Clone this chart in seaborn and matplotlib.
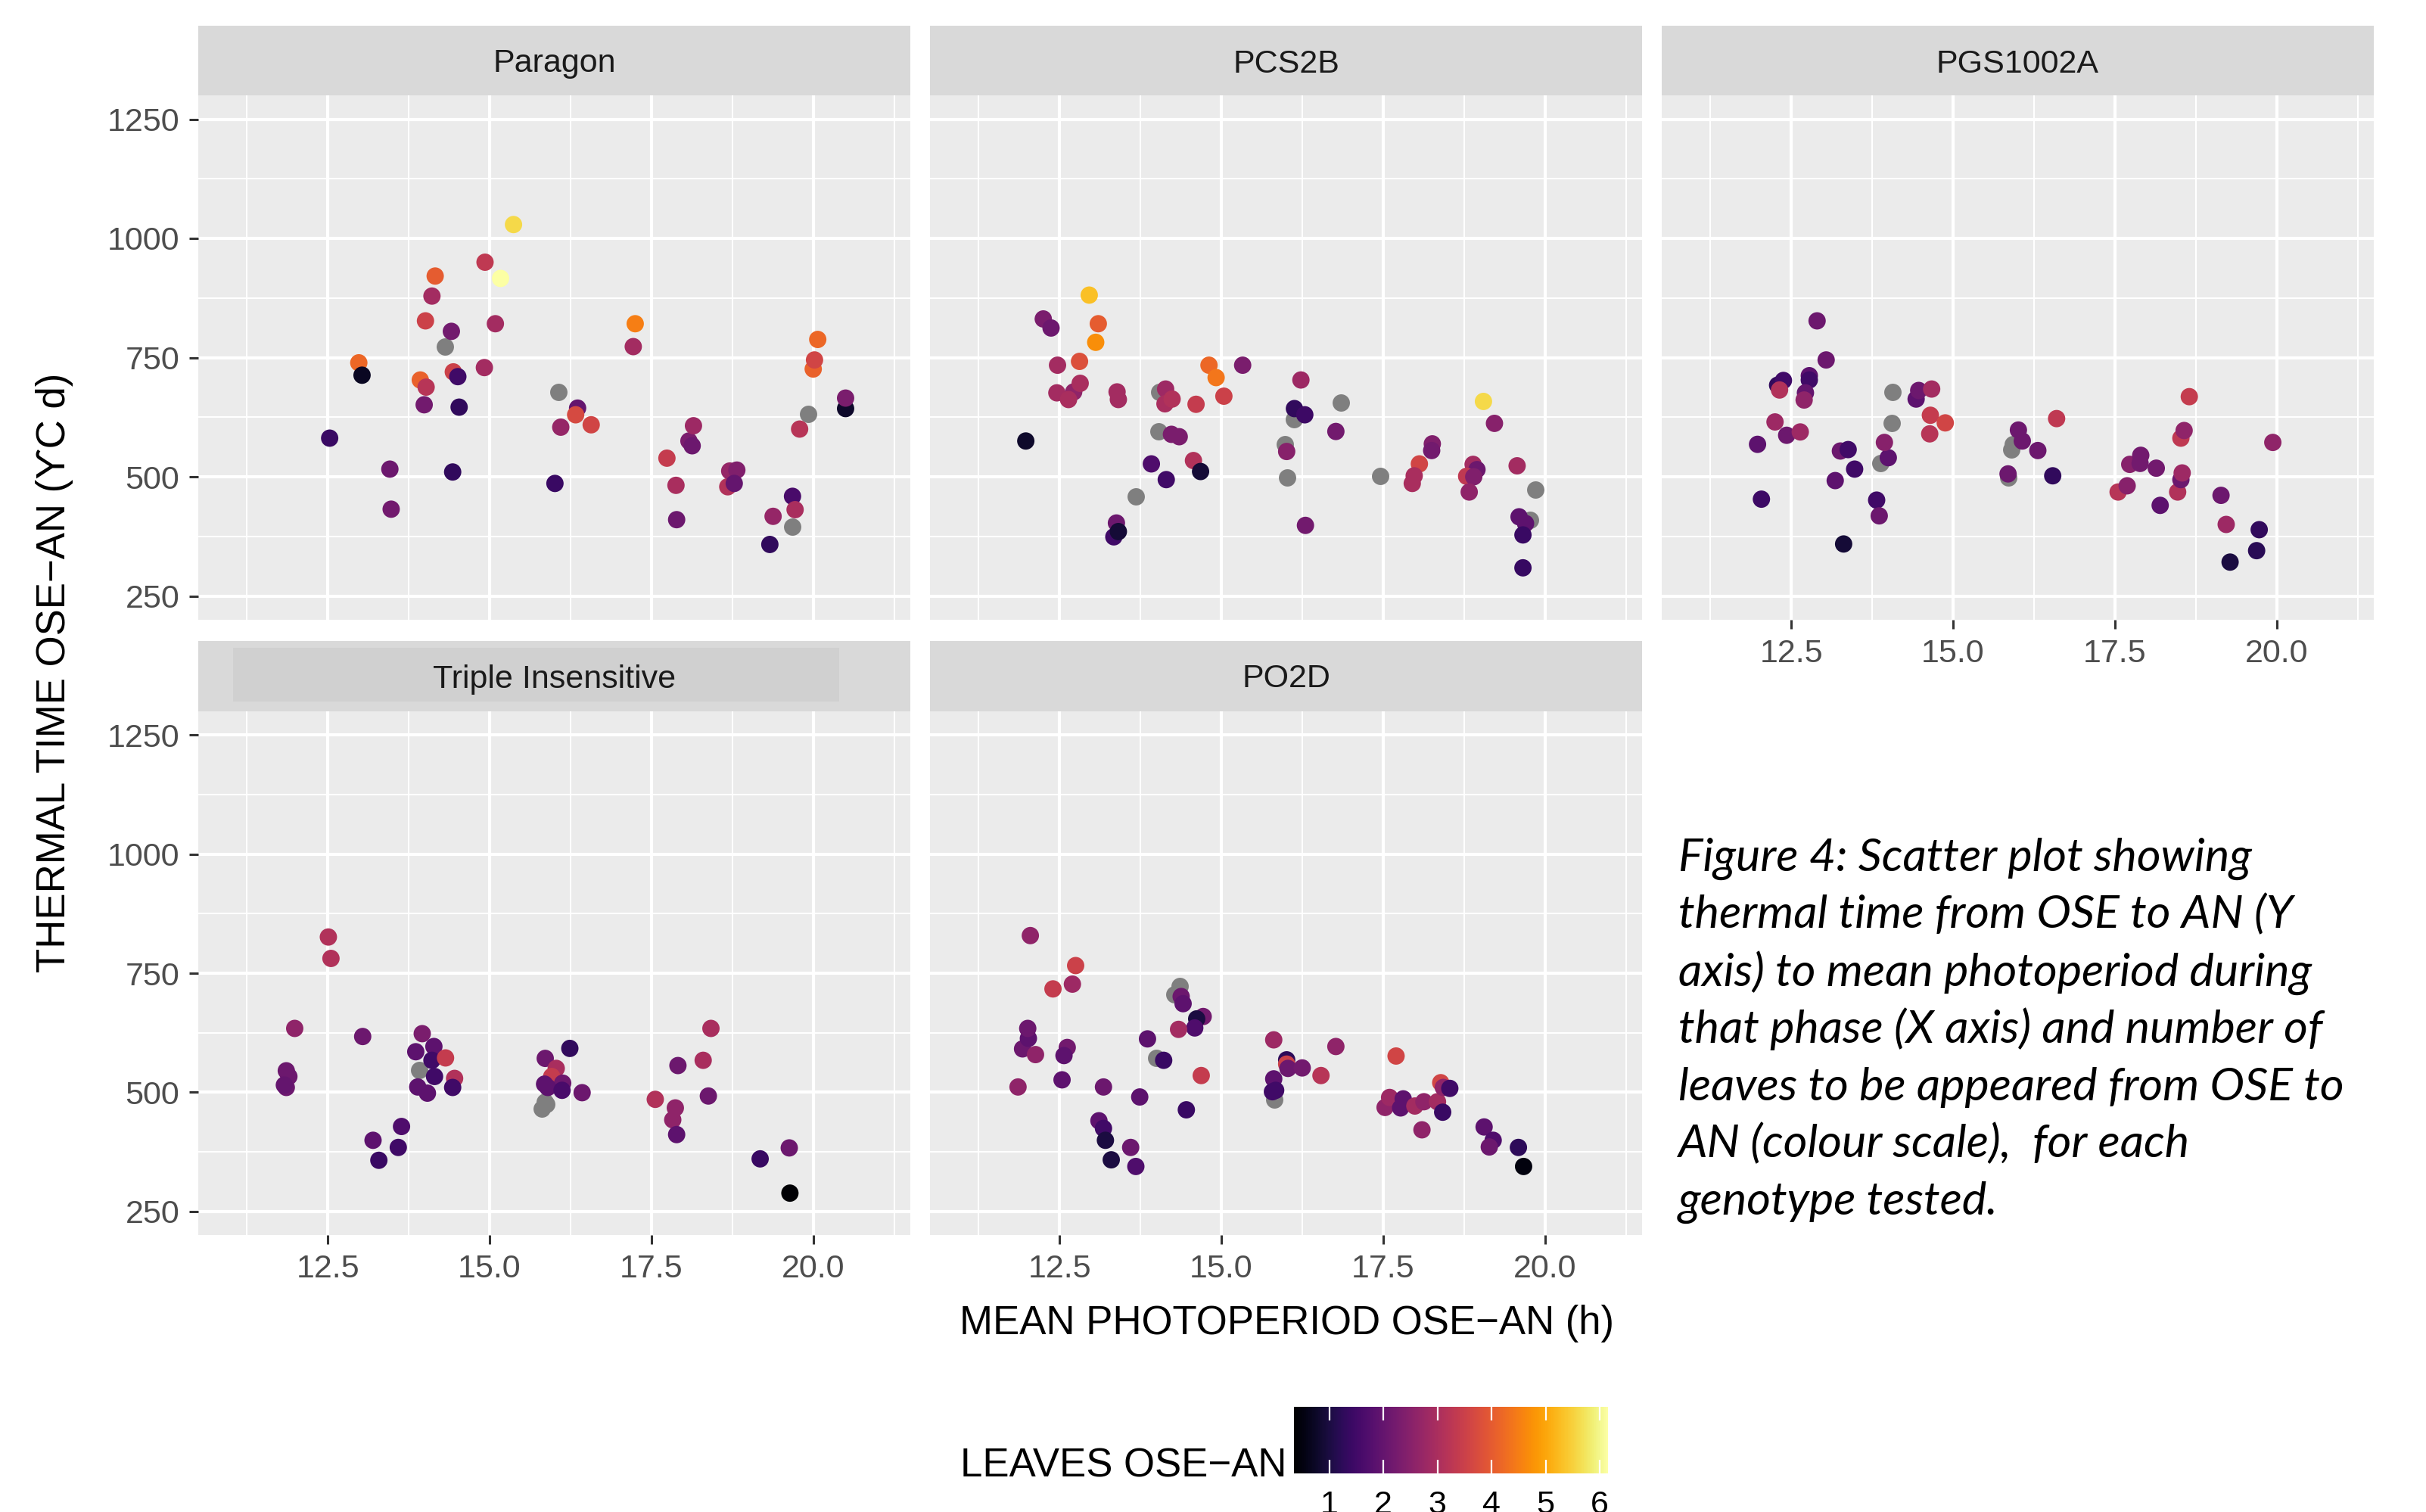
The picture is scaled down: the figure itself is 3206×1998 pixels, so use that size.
import numpy as np
import pandas as pd
import matplotlib
matplotlib.use("Agg")
import matplotlib.pyplot as plt
import matplotlib.colors as mcolors
from matplotlib.patches import Rectangle
import seaborn as sns

plt.rcParams["font.family"] = ["Liberation Sans", "DejaVu Sans"]

NA = np.nan

# ---------------- data: photoperiod (h), thermal time (degC d), leaves ----------------
paragon_x = [12.53, 12.98, 13.03, 13.46, 13.48, 13.93, 14.02, 13.99, 14.01, 14.11, 14.16,
             14.31, 14.41, 14.44, 14.51, 14.53, 14.43, 14.93, 14.92, 15.09, 15.17, 15.37,
             16.01, 16.06, 16.36, 16.33, 16.10, 16.57, 17.25, 17.22, 17.74, 17.88, 17.89,
             18.08, 18.13, 18.15, 18.68, 18.71, 18.82, 18.78, 19.38, 19.33, 19.68, 19.72,
             19.68, 19.79, 19.92, 20.00, 20.02, 20.07, 20.50, 20.50]
paragon_y = [581, 739, 713, 516, 432, 703, 688, 651, 827, 879, 921,
             773, 805, 720, 710, 646, 510, 950, 729, 821, 916, 1029,
             486, 678, 644, 630, 604, 609, 821, 773, 539, 482, 410,
             575, 565, 607, 479, 512, 514, 486, 417, 358, 459, 431,
             396, 600, 631, 726, 745, 788, 643, 665]
paragon_leaves = [1.4, 4.2, 0.7, 2.1, 2.2, 4.1, 3.2, 2.2, 3.5, 2.9, 4.0,
                  NA, 2.2, 3.5, 1.5, 1.3, 1.3, 3.3, 2.9, 2.9, 6.15, 5.6,
                  1.4, NA, 2.0, 3.7, 2.7, 3.6, 4.5, 2.9, 3.4, 3.0, 2.1,
                  2.3, 2.1, 2.8, 3.1, 2.7, 2.4, 2.0, 2.7, 1.3, 1.6, 3.0,
                  NA, 3.2, NA, 4.1, 3.6, 4.2, 0.8, 2.3]

pcs2b_x = [11.98, 12.25, 12.37, 12.47, 12.81, 12.96, 13.10, 13.06, 12.46, 12.72, 12.64,
           12.82, 13.39, 13.41, 13.38, 13.34, 13.41, 13.68, 14.04, 14.14, 14.13, 14.24,
           14.03, 14.23, 14.35, 13.92, 14.15, 14.57, 14.68, 14.61, 14.81, 14.92, 15.04,
           15.33, 16.23, 16.12, 16.13, 16.29, 16.85, 16.77, 15.98, 16.01, 16.02, 16.30,
           17.46, 18.06, 17.98, 17.95, 18.26, 18.25, 19.05, 19.22, 18.89, 18.95, 18.79,
           18.90, 18.83, 19.57, 19.85, 19.60, 19.77, 19.70, 19.66, 19.66]
pcs2b_y = [575, 831, 812, 734, 742, 881, 821, 782, 676, 678, 662,
           696, 678, 662, 403, 374, 385, 459, 678, 684, 653, 663,
           596, 589, 584, 527, 494, 534, 511, 652, 734, 708, 669,
           734, 703, 620, 643, 630, 656, 595, 569, 553, 498, 398,
           502, 527, 502, 486, 569, 555, 658, 612, 526, 515, 501,
           500, 468, 523, 473, 416, 409, 402, 378, 309]
pcs2b_leaves = [0.8, 2.3, 2.1, 2.9, 3.8, 5.3, 4.0, 4.7, 2.9, 2.6, 3.0,
                3.0, 2.9, 2.9, 2.1, 1.5, 0.9, NA, NA, 2.8, 3.0, 3.1,
                NA, 2.3, 2.3, 1.7, 1.5, 3.1, 0.9, 3.4, 4.2, 4.4, 3.5,
                2.3, 2.8, NA, 1.3, 1.45, NA, 2.2, NA, 2.5, NA, 2.2,
                NA, 3.6, 3.0, 3.0, 2.4, 2.2, 5.6, 2.5, 2.9, 2.1, 3.3,
                2.4, 2.6, 2.9, NA, 1.9, NA, 1.9, 1.4, 1.35]

pgs_x = [11.98, 12.04, 12.25, 12.29, 12.38, 12.32, 12.43, 12.64, 12.78, 12.78, 12.72,
         12.70, 12.90, 13.04, 13.18, 13.26, 13.38, 13.48, 13.31, 13.82, 13.86, 13.88,
         14.00, 13.94, 14.05, 14.07, 14.43, 14.47, 14.67, 14.65, 14.64, 14.88, 15.85,
         15.85, 15.90, 15.92, 16.01, 16.07, 16.31, 16.54, 16.60, 17.55, 17.69, 17.73,
         17.90, 17.89, 18.14, 18.20, 18.47, 18.52, 18.54, 18.52, 18.57, 18.65, 19.14,
         19.22, 19.28, 19.73, 19.69, 19.94]
pgs_y = [568, 453, 615, 692, 702, 682, 587, 594, 712, 703, 676,
         661, 827, 745, 492, 554, 557, 516, 359, 451, 418, 529,
         540, 572, 612, 677, 663, 681, 684, 629, 590, 613, 498,
         506, 557, 568, 598, 575, 555, 502, 622, 468, 481, 526,
         545, 528, 518, 440, 468, 494, 508, 581, 597, 668, 461,
         400, 321, 389, 345, 572]
pgs_leaves = [1.9, 1.45, 2.8, 1.3, 1.5, 3.1, 2.1, 2.8, 1.9, 1.5, 2.0,
              2.6, 2.1, 2.1, 1.9, 2.1, 1.5, 1.5, 0.9, 1.5, 2.1, NA,
              1.9, 2.5, NA, NA, 1.9, 2.1, 2.9, 3.4, 3.2, 3.6, NA,
              2.1, NA, NA, 2.1, 2.1, 2.1, 1.3, 3.3, 3.2, 2.5, 2.5,
              2.2, 2.2, 2.2, 1.9, 3.1, 2.1, 2.8, 3.3, 2.6, 3.4, 2.1,
              2.8, 1.0, 1.3, 1.2, 2.6]

triple_x = [11.86, 11.90, 11.86, 11.83, 11.99, 12.51, 12.55, 13.04, 13.20, 13.29, 13.59,
            13.64, 13.86, 13.96, 13.91, 13.89, 14.04, 14.14, 14.11, 14.15, 14.32, 14.46,
            14.43, 15.86, 16.03, 15.96, 16.13, 15.85, 15.90, 16.12, 16.24, 16.43, 15.85,
            15.81, 15.88, 17.56, 17.87, 17.83, 17.89, 17.91, 18.30, 18.42, 18.38, 19.18,
            19.63, 19.64]
triple_y = [545, 533, 510, 515, 634, 826, 781, 617, 399, 357, 384,
            428, 585, 623, 546, 511, 498, 596, 567, 533, 572, 529,
            510, 571, 550, 533, 519, 517, 510, 504, 592, 499, 480,
            466, 475, 485, 467, 442, 411, 556, 567, 634, 492, 360,
            383, 288]
triple_leaves = [2.1, 2.1, 2.1, 2.0, 2.6, 3.1, 3.1, 2.1, 1.9, 1.4, 1.5,
                 1.7, 1.9, 2.3, NA, 1.9, 1.9, 1.9, 1.5, 1.5, 3.4, 3.1,
                 1.5, 2.1, 3.0, 3.4, 2.1, 1.9, 1.9, 1.6, 1.3, 2.1, NA,
                 NA, NA, 3.1, 2.6, 2.6, 1.9, 2.1, 3.0, 3.0, 2.1, 1.4,
                 2.1, 0.35]

po2d_x = [11.86, 11.93, 12.02, 12.01, 12.13, 12.05, 12.40, 12.75, 12.70, 12.62, 12.57,
          12.54, 13.18, 13.11, 13.18, 13.21, 13.30, 13.60, 13.68, 13.74, 13.86, 13.99,
          14.11, 14.36, 14.27, 14.38, 14.41, 14.72, 14.62, 14.59, 14.34, 14.69, 14.46,
          15.81, 16.01, 16.01, 16.03, 16.25, 16.54, 16.77, 15.81, 15.79, 15.84, 15.82,
          17.53, 17.60, 17.81, 17.77, 17.70, 17.99, 18.13, 18.10, 18.34, 18.39, 18.43,
          18.53, 18.42, 19.06, 19.20, 19.14, 19.59, 19.67]
po2d_y = [511, 591, 613, 634, 579, 829, 717, 766, 727, 594, 577,
          526, 511, 440, 424, 399, 358, 384, 344, 490, 612, 572,
          567, 723, 705, 701, 686, 659, 654, 635, 632, 535, 463,
          610, 568, 559, 550, 551, 535, 596, 528, 501, 504, 484,
          468, 489, 486, 467, 576, 471, 480, 421, 480, 520, 510,
          508, 458, 427, 399, 385, 384, 344]
po2d_leaves = [2.6, 2.1, 1.9, 2.1, 2.6, 2.6, 3.4, 3.5, 2.8, 2.2, 1.9,
               1.9, 2.1, 1.9, 1.5, 1.0, 1.0, 2.1, 1.7, 1.9, 1.9, NA,
               1.4, NA, NA, 2.1, 1.9, 2.2, 1.0, 1.7, 2.9, 3.4, 1.4,
               2.8, 1.25, 3.5, 2.1, 2.2, 3.2, 2.6, 1.9, 1.5, 1.5, NA,
               2.6, 2.8, 1.9, 1.9, 3.6, 2.9, 2.6, 2.6, 2.9, 3.6, 2.6,
               1.5, 1.4, 1.9, 1.7, 2.1, 1.25, 0.5]

genotypes = ["Paragon", "PCS2B", "PGS1002A", "Triple Insensitive", "PO2D"]
series = {
    "Paragon": (paragon_x, paragon_y, paragon_leaves),
    "PCS2B": (pcs2b_x, pcs2b_y, pcs2b_leaves),
    "PGS1002A": (pgs_x, pgs_y, pgs_leaves),
    "Triple Insensitive": (triple_x, triple_y, triple_leaves),
    "PO2D": (po2d_x, po2d_y, po2d_leaves),
}
frames = []
for g in genotypes:
    xs, ys, ls = series[g]
    frames.append(pd.DataFrame({"genotype": g, "photoperiod": xs,
                                "thermal": ys, "leaves": ls}))
df = pd.concat(frames, ignore_index=True)

x_ticks = [12.5, 15.0, 17.5, 20.0]
y_ticks = [250, 500, 750, 1000, 1250]
leaf_ticks = [1, 2, 3, 4, 5, 6]

leaf_norm = (np.nanmin(df["leaves"]), np.nanmax(df["leaves"]))

# ---------------- layout in pixels ----------------
W, H = 3206, 1998
DPI = 200
fig = plt.figure(figsize=(W / DPI, H / DPI), dpi=DPI, facecolor="white")


def frac(x0, y0, x1, y1):
    return [x0 / W, 1 - y1 / H, (x1 - x0) / W, (y1 - y0) / H]


col_x = [262, 1229, 2196]
col_w = 941
rows = [(34, 126, 819), (847, 940, 1632)]   # strip top, panel top, panel bottom
slots = {"Paragon": (0, 0), "PCS2B": (0, 1), "PGS1002A": (0, 2),
         "Triple Insensitive": (1, 0), "PO2D": (1, 1)}

BG = "#EBEBEB"
STRIP = "#D9D9D9"
TXT = 15.5
TITLE = 19

for g in genotypes:
    r, c = slots[g]
    st, pt, pb = rows[r]
    x0 = col_x[c]
    ax = fig.add_axes(frac(x0, pt, x0 + col_w, pb))
    ax.set_facecolor(BG)
    sub = df[df["genotype"] == g]
    na = sub[sub["leaves"].isna()]
    ok = sub[sub["leaves"].notna()]
    sns.scatterplot(data=na, x="photoperiod", y="thermal", color="#7F7F7F",
                    s=68, linewidth=0, ax=ax, legend=False, zorder=3)
    sns.scatterplot(data=ok, x="photoperiod", y="thermal", hue="leaves",
                    palette="inferno", hue_norm=leaf_norm, s=68, linewidth=0,
                    ax=ax, legend=False, zorder=3)
    ax.set_xlim(10.5, 21.5)
    ax.set_ylim(200, 1300)
    ax.set_xticks(x_ticks)
    ax.set_yticks(y_ticks)
    ax.set_xticks([11.25, 13.75, 16.25, 18.75, 21.25], minor=True)
    ax.set_yticks([375, 625, 875, 1125], minor=True)
    ax.grid(which="major", color="white", linewidth=1.5, zorder=0)
    ax.grid(which="minor", color="white", linewidth=0.75, zorder=0)
    ax.set_axisbelow(True)
    for sp in ax.spines.values():
        sp.set_visible(False)
    ax.set_xlabel("")
    ax.set_ylabel("")
    ax.tick_params(which="minor", length=0)
    ax.tick_params(which="major", length=4.3, width=1.1, color="#333333",
                   labelcolor="#4D4D4D", labelsize=TXT)
    ax.tick_params(axis="y", pad=4.6)
    ax.tick_params(axis="x", pad=4.8)
    ax.set_yticklabels([str(v) for v in y_ticks])
    ax.set_xticklabels([f"{v:.1f}" for v in x_ticks])
    show_x = (r == 1) or (g == "PGS1002A")
    if not show_x:
        ax.tick_params(axis="x", length=0, labelbottom=False)
    if c != 0:
        ax.tick_params(axis="y", length=0, labelleft=False)

    # facet strip
    sh = pt - st
    sax = fig.add_axes(frac(x0, st, x0 + col_w, pt))
    sax.set_facecolor(STRIP)
    sax.set_xticks([])
    sax.set_yticks([])
    for sp in sax.spines.values():
        sp.set_visible(False)
    if g == "Triple Insensitive":
        sax.add_patch(Rectangle(((308 - x0) / col_w, (pt - 927) / sh),
                                (1109 - 308) / col_w, (927 - 856) / sh,
                                transform=sax.transAxes, facecolor="#D0D0D0",
                                edgecolor="none"))
    sax.text(0.5, (sh - 61.5) / sh, g, transform=sax.transAxes, ha="center",
             va="baseline", fontsize=TXT, color="#1A1A1A")

# axis titles
fig.text(1700 / W, 1 - 1763 / H, "MEAN PHOTOPERIOD OSE\u2212AN (h)",
         ha="center", va="baseline", fontsize=TITLE, color="black")
fig.text(72 / W, 1 - 889 / H, "THERMAL TIME OSE\u2212AN (\u03d2C d)",
         ha="center", va="center", rotation=90, fontsize=TITLE, color="black",
         rotation_mode="anchor", family=["Liberation Sans", "DejaVu Serif"])

# colour bar legend
cax = fig.add_axes(frac(1710, 1859, 2125, 1947))
sm = plt.cm.ScalarMappable(cmap="inferno",
                           norm=mcolors.Normalize(*leaf_norm))
cb = fig.colorbar(sm, cax=cax, orientation="horizontal", ticks=leaf_ticks)
cb.outline.set_visible(False)
cax.tick_params(axis="x", direction="in", length=6.5, width=0.8, color="white",
                top=True, bottom=True, labelsize=TXT, labelcolor="black", pad=8)
fig.text(1700 / W, 1 - 1952 / H, "LEAVES OSE\u2212AN", ha="right",
         va="baseline", fontsize=TITLE, color="black")

# caption
caption = ["Figure 4: Scatter plot showing",
           "thermal time from OSE to AN (Y",
           "axis) to mean photoperiod during",
           "that phase (X axis) and number of",
           "leaves to be appeared from OSE to",
           "AN (colour scale),  for each",
           "genotype tested."]
for i, line in enumerate(caption):
    fig.text(2218 / W, 1 - (1151 + i * 75.7) / H, line, ha="left",
             va="baseline", fontsize=22, fontstyle="italic",
             family=["Lato", "DejaVu Sans"], color="black")

fig.savefig("out.png", dpi=DPI, facecolor="white")
